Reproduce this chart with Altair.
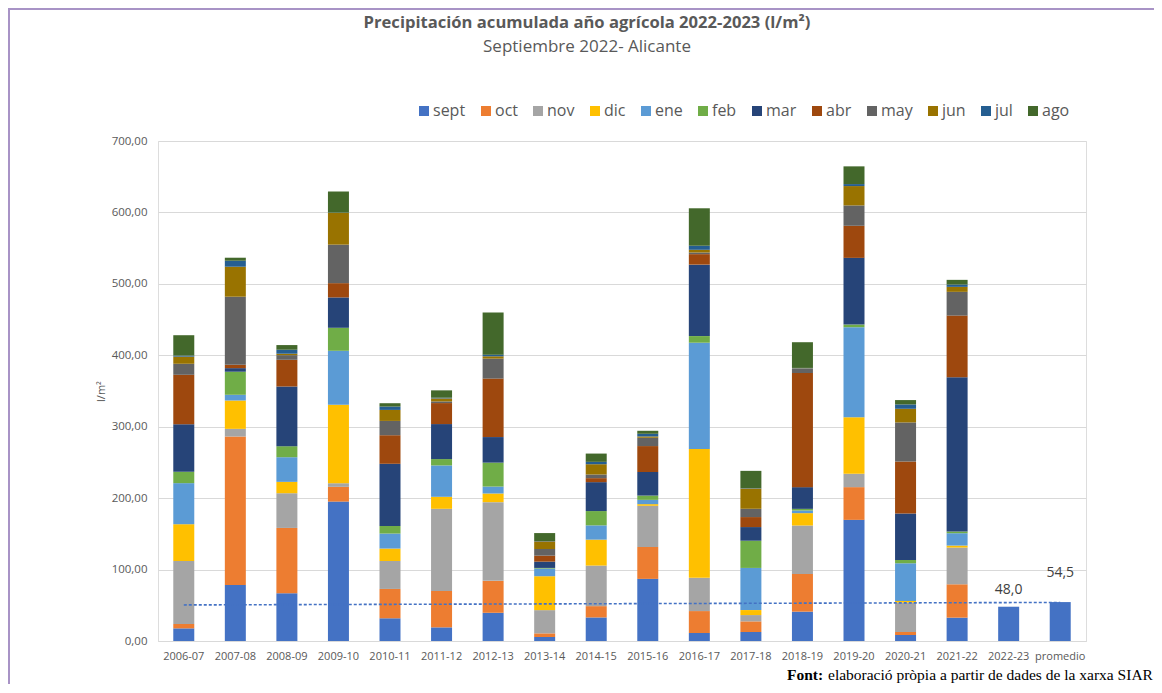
import altair as alt
import pandas as pd

# ---------------- data ----------------
years = ["2006-07", "2007-08", "2008-09", "2009-10", "2010-11", "2011-12",
         "2012-13", "2013-14", "2014-15", "2015-16", "2016-17", "2017-18",
         "2018-19", "2019-20", "2020-21", "2021-22", "2022-23", "promedio"]
months = ["sept", "oct", "nov", "dic", "ene", "feb",
          "mar", "abr", "may", "jun", "jul", "ago"]
colors = ["#4472C4", "#ED7D31", "#A5A5A5", "#FFC000", "#5B9BD5", "#70AD47",
          "#264478", "#9E480E", "#636363", "#997300", "#255E91", "#43682B"]

sept = [17.7, 78.5, 66.8, 195.2, 31.8, 19.1, 39.5, 5.6, 33.0, 87.0, 11.2, 12.6, 41.1, 169.6, 8.4, 32.7, 48.0, 54.5]
oct_ = [6.1, 207.8, 91.5, 20.6, 41.1, 51.0, 44.7, 5.1, 15.8, 44.6, 30.7, 14.9, 52.8, 45.8, 4.2, 46.7, 0, 0]
nov = [88.2, 10.7, 48.6, 5.1, 39.1, 115.0, 110.2, 32.5, 56.8, 57.7, 46.5, 8.8, 67.8, 18.7, 41.1, 51.4, 0, 0]
dic = [51.5, 39.7, 15.9, 109.7, 17.4, 16.8, 12.1, 47.5, 36.3, 2.3, 180.4, 7.0, 17.3, 79.0, 2.3, 2.8, 0, 0]
ene = [57.5, 8.0, 34.5, 75.7, 21.0, 43.9, 9.7, 10.7, 20.0, 6.0, 148.8, 59.0, 3.7, 126.2, 52.8, 17.3, 0, 0]
feb = [16.0, 32.3, 15.4, 32.2, 10.7, 8.9, 33.5, 0.9, 20.0, 6.0, 9.3, 38.1, 2.3, 3.7, 4.7, 2.4, 0, 0]
mar = [66.6, 5.0, 83.6, 42.5, 87.0, 49.0, 35.8, 8.8, 40.5, 33.0, 100.0, 19.1, 30.4, 93.4, 64.9, 215.9, 0, 0]
abr = [69.1, 4.7, 37.4, 20.0, 40.0, 29.4, 81.9, 8.4, 5.6, 36.3, 14.7, 14.0, 159.8, 44.9, 72.9, 86.4, 0, 0]
may = [15.4, 95.3, 6.5, 53.9, 20.0, 2.3, 27.9, 9.3, 5.1, 11.6, 2.3, 11.6, 6.1, 28.5, 54.7, 33.2, 0, 0]
jun = [10.0, 42.0, 2.0, 44.5, 15.4, 4.2, 3.3, 10.7, 14.4, 1.9, 3.8, 28.4, 0.5, 27.1, 19.1, 7.0, 0, 0]
jul = [1.5, 8.4, 5.6, 0.3, 4.7, 1.0, 2.3, 0.5, 3.3, 3.7, 5.7, 0.5, 0.5, 2.8, 6.1, 3.2, 0, 0]
ago = [28.5, 4.2, 6.5, 29.6, 4.7, 10.3, 59.0, 11.1, 11.6, 4.2, 52.4, 24.2, 36.0, 24.8, 6.1, 6.6, 0, 0]

series = [sept, oct_, nov, dic, ene, feb, mar, abr, may, jun, jul, ago]

label_cats = ["2022-23", "promedio"]
label_vals = [48.0, 54.5]
label_txt = ["48,0", "54,5"]

trend_cats = ["2006-07", "promedio"]
trend_vals = [50.5, 54.0]

title_text = "Precipitación acumulada año agrícola 2022-2023 (l/m²)"
subtitle_text = "Septiembre 2022- Alicante"
source_bold = "Font:"
source_text = "elaboració pròpia a partir de dades de la xarxa SIAR"

# ---------------- tables ----------------
rows = []
for mi, (m, vals) in enumerate(zip(months, series)):
    for y, v in zip(years, vals):
        if v > 0:
            rows.append({"year": y, "month": m, "mi": mi, "value": v})
df = pd.DataFrame(rows)

FONT = "Open Sans"
GRAY = "#595959"

x_scale = alt.Scale(domain=years, paddingInner=0, paddingOuter=0)
y_scale = alt.Scale(domain=[0, 700], nice=False)

bars = alt.Chart(df).mark_bar(size=21).encode(
    x=alt.X("year:N", scale=x_scale, sort=years, title=None,
            axis=alt.Axis(labelAngle=0, ticks=False, domainColor="#D9D9D9",
                          labelPadding=9, labelFontSize=11, labelFont=FONT,
                          labelColor=GRAY, grid=False)),
    y=alt.Y("value:Q", stack="zero", scale=y_scale, title="l/m²",
            axis=alt.Axis(values=[0, 100, 200, 300, 400, 500, 600, 700],
                          labelExpr="replace(format(datum.value, '.2f'), '.', ',')",
                          domain=False, ticks=False, gridColor="#D9D9D9",
                          labelPadding=11, labelFontSize=11.5, labelFont=FONT,
                          labelColor=GRAY, titleFont=FONT, titleFontSize=11,
                          titleColor=GRAY, titleFontWeight="normal",
                          titleX=-57, titleY=250, titleAngle=-90,
                          titleAlign="center", titleBaseline="middle")),
    color=alt.Color("month:N", sort=months,
                    scale=alt.Scale(domain=months, range=colors),
                    legend=alt.Legend(orient="none", legendX=258, legendY=-38,
                                      direction="horizontal", columns=12,
                                      title=None, symbolType="square",
                                      symbolSize=100, symbolStrokeWidth=0,
                                      labelFontSize=16, labelFont=FONT,
                                      labelColor=GRAY, labelOffset=1,
                                      columnPadding=12)),
    order=alt.Order("mi:Q", sort="ascending"),
)

trend = alt.Chart(pd.DataFrame({"year": trend_cats, "value": trend_vals})).mark_line(
    color="#4472C4", strokeDash=[3, 2], strokeWidth=1.6
).encode(
    x=alt.X("year:N", scale=x_scale, sort=years),
    y=alt.Y("value:Q", scale=y_scale),
)

lab_df = pd.DataFrame({"year": label_cats, "value": label_vals, "txt": label_txt})
lab1 = alt.Chart(lab_df[lab_df.year == "2022-23"]).mark_text(
    font=FONT, fontSize=14, color="#404040", dy=-17
).encode(x=alt.X("year:N", scale=x_scale, sort=years),
         y=alt.Y("value:Q", scale=y_scale), text="txt:N")
lab2 = alt.Chart(lab_df[lab_df.year == "promedio"]).mark_text(
    font=FONT, fontSize=14, color="#404040", dy=-29
).encode(x=alt.X("year:N", scale=x_scale, sort=years),
         y=alt.Y("value:Q", scale=y_scale), text="txt:N")

title = alt.Chart(pd.DataFrame({"t": [title_text]})).mark_text(
    font=FONT, fontSize=16.6, fontWeight="bold", color=GRAY, align="center",
    baseline="alphabetic"
).encode(x=alt.value(429), y=alt.value(-113), text="t:N")

subtitle = alt.Chart(pd.DataFrame({"t": [subtitle_text]})).mark_text(
    font=FONT, fontSize=17, color=GRAY, align="center", baseline="alphabetic"
).encode(x=alt.value(429), y=alt.value(-89), text="t:N")

src1 = alt.Chart(pd.DataFrame({"t": [source_bold]})).mark_text(
    font="Liberation Serif", fontSize=15.5, fontWeight="bold", color="black",
    align="left", baseline="alphabetic"
).encode(x=alt.value(629), y=alt.value(539), text="t:N")

src2 = alt.Chart(pd.DataFrame({"t": [source_text]})).mark_text(
    font="Liberation Serif", fontSize=15.5, color="black",
    align="left", baseline="alphabetic"
).encode(x=alt.value(670), y=alt.value(539), text="t:N")

border_top = alt.Chart(pd.DataFrame({"a": [0]})).mark_rule(
    color="#A893C6", strokeWidth=2
).encode(x=alt.value(-150), x2=alt.value(996), y=alt.value(-132))

border_left = alt.Chart(pd.DataFrame({"a": [0]})).mark_rule(
    color="#A893C6", strokeWidth=2
).encode(x=alt.value(-149), y=alt.value(-133), y2=alt.value(543))

chart = alt.layer(
    bars, trend, lab1, lab2, title, subtitle, src1, src2, border_top, border_left
).properties(
    width=928, height=500,
    autosize=alt.AutoSizeParams(type="none"),
    padding={"left": 150, "top": 133, "right": 68, "bottom": 43},
).configure_view(stroke=None).configure(background="white")

chart.save("out.html", embed_options={"renderer": "svg", "actions": False})
